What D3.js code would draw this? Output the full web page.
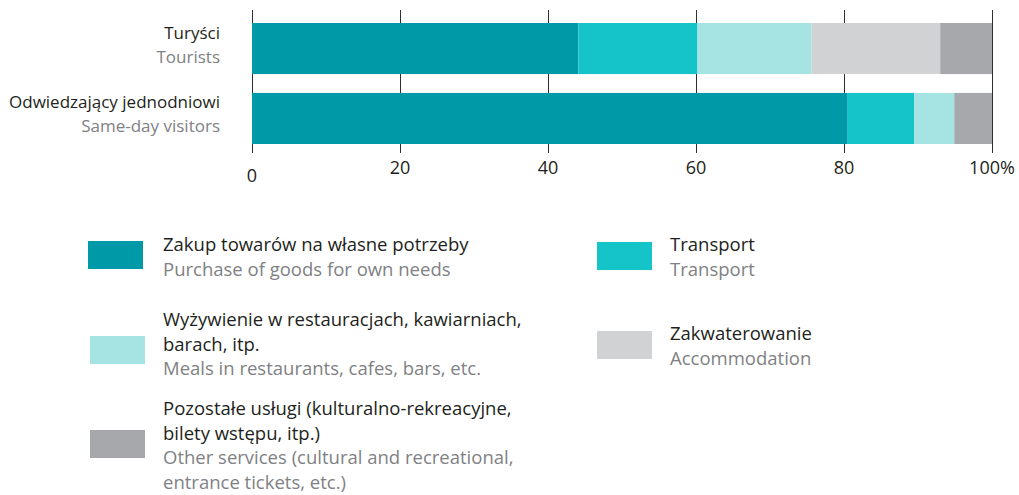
<!DOCTYPE html>
<html>
<head>
<meta charset="utf-8">
<script src="https://cdn.jsdelivr.net/npm/d3@7"></script>
<style>
  html, body { margin: 0; padding: 0; background: #fff; }
  svg { display: block; font-family: "Open Sans", "Noto Sans", sans-serif; }
</style>
</head>
<body>
<svg id="chart" width="1019" height="495"></svg>
<script>
// Visitor groups (Polish label + English subtitle)
const categories = ["Turyści", "Odwiedzający jednodniowi"];
const categoriesEn = ["Tourists", "Same-day visitors"];

// Expenditure structure, % of total per group
const seriesKeys = ["goods", "transport", "meals", "accommodation", "other"];
const goods = [44.1, 80.5];
const transport = [16.1, 9.0];
const meals = [15.4, 5.4];
const accommodation = [17.4, 0];
const other = [7.0, 5.1];

const xTicks = [0, 20, 40, 60, 80, 100];
const xTickLabels = ["0", "20", "40", "60", "80", "100%"];

// Legend texts
const legendPl = {
  goods: ["Zakup towarów na własne potrzeby"],
  transport: ["Transport"],
  meals: ["Wyżywienie w restauracjach, kawiarniach,", "barach, itp."],
  accommodation: ["Zakwaterowanie"],
  other: ["Pozostałe usługi (kulturalno-rekreacyjne,", "bilety wstępu, itp.)"]
};
const legendEn = {
  goods: ["Purchase of goods for own needs"],
  transport: ["Transport"],
  meals: ["Meals in restaurants, cafes, bars, etc."],
  accommodation: ["Accommodation"],
  other: ["Other services (cultural and recreational,", "entrance tickets, etc.)"]
};

const colors = {
  goods: "#0099a8",
  transport: "#14c4c8",
  meals: "#a6e3e3",
  accommodation: "#d1d2d4",
  other: "#a7a8ac"
};
const textDark = "#231f20";
const textGray = "#808184";

const seriesValues = { goods, transport, meals, accommodation, other };
const rows = categories.map((c, i) => {
  const r = { category: c };
  seriesKeys.forEach(k => r[k] = seriesValues[k][i]);
  return r;
});

const svg = d3.select("#chart");

const x = d3.scaleLinear().domain([0, 100]).range([252, 992]);
const y = d3.scaleBand().domain(categories).range([23, 144]).paddingInner(0.27).paddingOuter(0);

// Vertical gridlines
svg.append("g").selectAll("line")
  .data(xTicks)
  .join("line")
  .attr("x1", d => x(d) + 0.5).attr("x2", d => x(d) + 0.5)
  .attr("y1", 10).attr("y2", 153)
  .attr("stroke", "#2e2e2e").attr("stroke-width", 1);

// Stacked bars
const stacked = d3.stack().keys(seriesKeys)(rows);
svg.append("g").selectAll("g")
  .data(stacked)
  .join("g")
  .attr("fill", s => colors[s.key])
  .selectAll("rect")
  .data(s => s)
  .join("rect")
  .attr("x", d => x(d[0]))
  .attr("width", d => Math.max(0, x(d[1]) - x(d[0])))
  .attr("y", d => y(d.data.category))
  .attr("height", y.bandwidth());

// Axis tick labels
svg.append("g").selectAll("text")
  .data(xTicks)
  .join("text")
  .attr("x", d => x(d))
  .attr("y", (d, i) => i === 0 ? 182 : 174)
  .attr("text-anchor", "middle")
  .attr("font-size", 18)
  .attr("fill", textDark)
  .text((d, i) => xTickLabels[i]);

// Category labels
const catG = svg.append("g");
categories.forEach((c, i) => {
  const cy = y(c) + y.bandwidth() / 2;
  catG.append("text")
    .attr("x", 220).attr("y", cy - 10)
    .attr("text-anchor", "end")
    .attr("font-size", 17)
    .attr("fill", textDark)
    .text(c);
  catG.append("text")
    .attr("x", 220).attr("y", cy + 14)
    .attr("text-anchor", "end")
    .attr("font-size", 17)
    .attr("fill", textGray)
    .text(categoriesEn[i]);
});

// Legend
const legendLayout = [
  { key: "goods", sx: 88, sy: 241, tx: 163, ty: 251 },
  { key: "meals", sx: 90, sy: 336, tx: 163, ty: 326 },
  { key: "other", sx: 90, sy: 430, tx: 163, ty: 415 },
  { key: "transport", sx: 597, sy: 242, tx: 670, ty: 251 },
  { key: "accommodation", sx: 597, sy: 331, tx: 670, ty: 340 }
];
const lineH = 24.5;
const leg = svg.append("g");
legendLayout.forEach(l => {
  leg.append("rect")
    .attr("x", l.sx).attr("y", l.sy)
    .attr("width", 55).attr("height", 28)
    .attr("fill", colors[l.key]);
  const lines = legendPl[l.key].map(t => ({ t, c: textDark }))
    .concat(legendEn[l.key].map(t => ({ t, c: textGray })));
  lines.forEach((ln, j) => {
    leg.append("text")
      .attr("x", l.tx).attr("y", l.ty + j * lineH)
      .attr("font-size", 18.5)
      .attr("fill", ln.c)
      .text(ln.t);
  });
});
</script>
</body>
</html>
